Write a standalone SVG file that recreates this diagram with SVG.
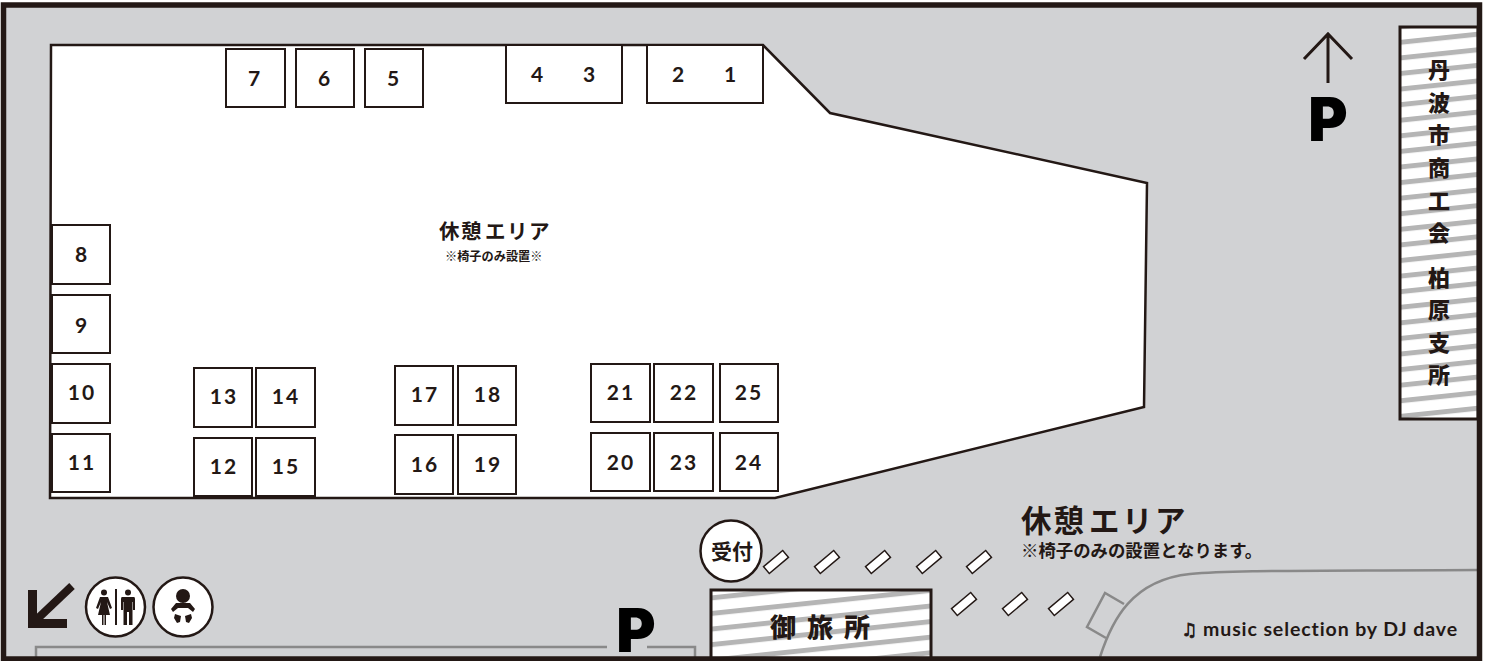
<svg xmlns="http://www.w3.org/2000/svg" width="1488" height="661" viewBox="0 0 1488 661">
<style>
.b{fill:#fff;stroke:#231815;stroke-width:2}
.n{font-family:"Lato","Liberation Sans",sans-serif;font-weight:700;font-size:21px;fill:#231815;text-anchor:middle;letter-spacing:2px}
.j{font-family:"Noto Sans CJK JP",sans-serif;font-weight:700;fill:#231815}
.v{font-family:"Noto Sans CJK JP",sans-serif;font-weight:900;font-size:22px;fill:#231815;text-anchor:middle}
.w{font-size:26px}
.p{font-family:"Inter","Liberation Sans",sans-serif;font-weight:900;font-size:60px;fill:#000;text-anchor:middle}
.bench{fill:#fff;stroke:#231815;stroke-width:1.500}
.road{fill:none;stroke:#898989;stroke-width:2.500}
.hatch{fill:url(#h);stroke:#231815;stroke-width:3}
</style>
<defs>
<pattern id="h" patternUnits="userSpaceOnUse" width="100" height="15.500" patternTransform="rotate(-6)">
<rect width="100" height="15.500" fill="#fff"/><rect width="100" height="5" fill="#b5b5b5"/>
</pattern>
</defs>
<rect id="ground" x="3.500" y="5" width="1476" height="654" fill="#d1d2d4"/>
<g id="road">
<path class="road" d="M36 657V647H607M647 647H695V657"/>
<path class="road" d="M1100 657C1112 620 1132 580 1190 574C1230 570 1300 571 1478 570"/>
<path class="road" d="M1124 604L1105 593L1087 627L1106 638"/>
</g>
<polygon id="venue" points="51,45 763,45 830,113 1147,183 1144,407 775,498 50,498" fill="#fff" stroke="#231815" stroke-width="2.500"/>
<g id="booths">
<g id="b7"><rect class="b" x="226" y="49" width="59" height="58"/><text class="n" x="255" y="86">7</text></g>
<g id="b6"><rect class="b" x="296" y="49" width="58" height="58"/><text class="n" x="325" y="86">6</text></g>
<g id="b5"><rect class="b" x="365" y="49" width="58" height="58"/><text class="n" x="394" y="86">5</text></g>
<g id="b43"><rect class="b" x="506" y="45" width="116" height="58"/><text class="n" x="538" y="82">4</text><text class="n" x="590" y="82">3</text></g>
<g id="b21"><rect class="b" x="647" y="45" width="116" height="58"/><text class="n" x="679" y="82">2</text><text class="n" x="731" y="82">1</text></g>
<g id="b8"><rect class="b" x="52" y="225" width="58" height="59"/><text class="n" x="82" y="262">8</text></g>
<g id="b9"><rect class="b" x="52" y="295" width="58" height="58"/><text class="n" x="82" y="333">9</text></g>
<g id="b10"><rect class="b" x="52" y="364" width="58" height="59"/><text class="n" x="82" y="400">10</text></g>
<g id="b11"><rect class="b" x="52" y="434" width="58" height="58"/><text class="n" x="82" y="470">11</text></g>
<g id="b13"><rect class="b" x="194" y="368" width="58" height="59"/><text class="n" x="224" y="404">13</text></g>
<g id="b14"><rect class="b" x="256" y="368" width="59" height="59"/><text class="n" x="286" y="404">14</text></g>
<g id="b12"><rect class="b" x="194" y="438" width="58" height="58"/><text class="n" x="224" y="474">12</text></g>
<g id="b15"><rect class="b" x="256" y="438" width="59" height="58"/><text class="n" x="286" y="474">15</text></g>
<g id="b17"><rect class="b" x="395" y="366" width="58" height="59"/><text class="n" x="425" y="402">17</text></g>
<g id="b18"><rect class="b" x="458" y="366" width="58" height="59"/><text class="n" x="488" y="402">18</text></g>
<g id="b16"><rect class="b" x="395" y="435" width="58" height="59"/><text class="n" x="425" y="472">16</text></g>
<g id="b19"><rect class="b" x="458" y="435" width="58" height="59"/><text class="n" x="488" y="472">19</text></g>
<g id="b21x"><rect class="b" x="591" y="364" width="59" height="58"/><text class="n" x="621" y="400">21</text></g>
<g id="b22"><rect class="b" x="654" y="364" width="59" height="58"/><text class="n" x="684" y="400">22</text></g>
<g id="b25"><rect class="b" x="720" y="364" width="58" height="58"/><text class="n" x="749" y="400">25</text></g>
<g id="b20"><rect class="b" x="591" y="433" width="59" height="58"/><text class="n" x="621" y="470">20</text></g>
<g id="b23"><rect class="b" x="654" y="433" width="59" height="58"/><text class="n" x="684" y="470">23</text></g>
<g id="b24"><rect class="b" x="720" y="433" width="58" height="58"/><text class="n" x="749" y="470">24</text></g>
</g>
<g id="rest-inner">
<text class="j" x="439" y="239" font-size="20.500" letter-spacing="1.500">休憩<tspan dx="2">エリア</tspan></text>
<text class="j" x="445" y="261" font-size="12.200" font-weight="900">※椅子のみ設置※</text>
</g>
<g id="rest-outer">
<text class="j" x="1021" y="532" font-size="30.500" letter-spacing="2">休憩<tspan dx="3" letter-spacing="2.500">エリア</tspan></text>
<text class="j" x="1021" y="557" font-size="17.400" font-weight="900">※椅子のみの設置となります。</text>
</g>
<g id="benches">
<rect class="bench" x="-12.500" y="-4.500" width="25" height="9" transform="translate(776 562) rotate(-40)"/>
<rect class="bench" x="-12.500" y="-4.500" width="25" height="9" transform="translate(827 562) rotate(-40)"/>
<rect class="bench" x="-12.500" y="-4.500" width="25" height="9" transform="translate(878 562) rotate(-40)"/>
<rect class="bench" x="-12.500" y="-4.500" width="25" height="9" transform="translate(929 562) rotate(-40)"/>
<rect class="bench" x="-12.500" y="-4.500" width="25" height="9" transform="translate(979 562) rotate(-40)"/>
<rect class="bench" x="-12.500" y="-4.500" width="25" height="9" transform="translate(964 604) rotate(-40)"/>
<rect class="bench" x="-12.500" y="-4.500" width="25" height="9" transform="translate(1015 604) rotate(-40)"/>
<rect class="bench" x="-12.500" y="-4.500" width="25" height="9" transform="translate(1061 604) rotate(-40)"/>
</g>
<g id="reception">
<circle cx="731" cy="551" r="30.500" fill="#fff" stroke="#231815" stroke-width="2.500"/>
<text class="j" x="732" y="559" font-size="21" font-weight="900" text-anchor="middle">受付</text>
</g>
<g id="otabisho">
<rect class="hatch" x="711" y="590" width="220" height="70"/>
<text class="v w" x="783" y="637">御</text>
<text class="v w" x="820" y="637">旅</text>
<text class="v w" x="857" y="637">所</text>
</g>
<g id="shokokai">
<rect class="hatch" x="1400" y="27" width="78" height="392"/>
<text class="v" x="1439" y="78">丹</text>
<text class="v" x="1439" y="111">波</text>
<text class="v" x="1439" y="143">市</text>
<text class="v" x="1439" y="176">商</text>
<text class="v" x="1439" y="209">工</text>
<text class="v" x="1439" y="241">会</text>
<text class="v" x="1439" y="286">柏</text>
<text class="v" x="1439" y="318">原</text>
<text class="v" x="1439" y="351">支</text>
<text class="v" x="1439" y="383">所</text>
</g>
<g id="north">
<path d="M1328 83V35M1304 59L1328 34L1352 59" fill="none" stroke="#231815" stroke-width="3"/>
<text class="p" x="1328" y="141">P</text>
</g>
<g id="parking"><text class="p" x="636" y="652">P</text></g>
<g id="wc-arrow"><path d="M28 590H37V619H67V628H28Z" fill="#231815"/><path d="M33 623L72 586" stroke="#231815" stroke-width="8" fill="none"/></g>
<g id="wc">
<circle cx="115.500" cy="607" r="29.500" fill="#fff" stroke="#231815" stroke-width="2.500"/>
<rect x="115" y="589" width="2" height="36" fill="#231815"/>
<circle cx="104" cy="592.500" r="3" fill="#231815"/>
<path d="M100 597H108L112 608L110 609L107 602L110 615H106V625H104.500V615H103.500V625H102V615H98L101 602L98 609L96 608Z" fill="#231815"/>
<circle cx="128" cy="592.500" r="3" fill="#231815"/>
<path d="M122 597H134Q135 597 135 599V610H133V602H132.500V625H129V612H127V625H123.500V602H123V610H121V599Q121 597 122 597Z" fill="#231815"/>
</g>
<g id="baby">
<circle cx="183" cy="607" r="29.500" fill="#fff" stroke="#231815" stroke-width="2.500"/>
<circle cx="183" cy="596" r="7" fill="#231815"/>
<path d="M176 603H190L195 609L193 612L188 608H178L173 612L171 609Z" fill="#231815"/>
<path d="M175 614L181 616L180 622L177 623L174 618Z M191 614L185 616L186 622L189 623L192 618Z" fill="#231815"/>
</g>
<g id="credit">
<text x="1181" y="636" font-family="DejaVu Sans,sans-serif" font-size="18" font-weight="700" fill="#231815" stroke="#231815" stroke-width=".7">♫</text>
<text x="1203" y="636" font-family="Lato,sans-serif" font-size="19.500" font-weight="700" fill="#231815" letter-spacing=".9">music selection by DJ dave</text>
</g>
<rect id="frame" x="3.500" y="5" width="1476" height="654" fill="none" stroke="#231815" stroke-width="5.500"/>
</svg>
